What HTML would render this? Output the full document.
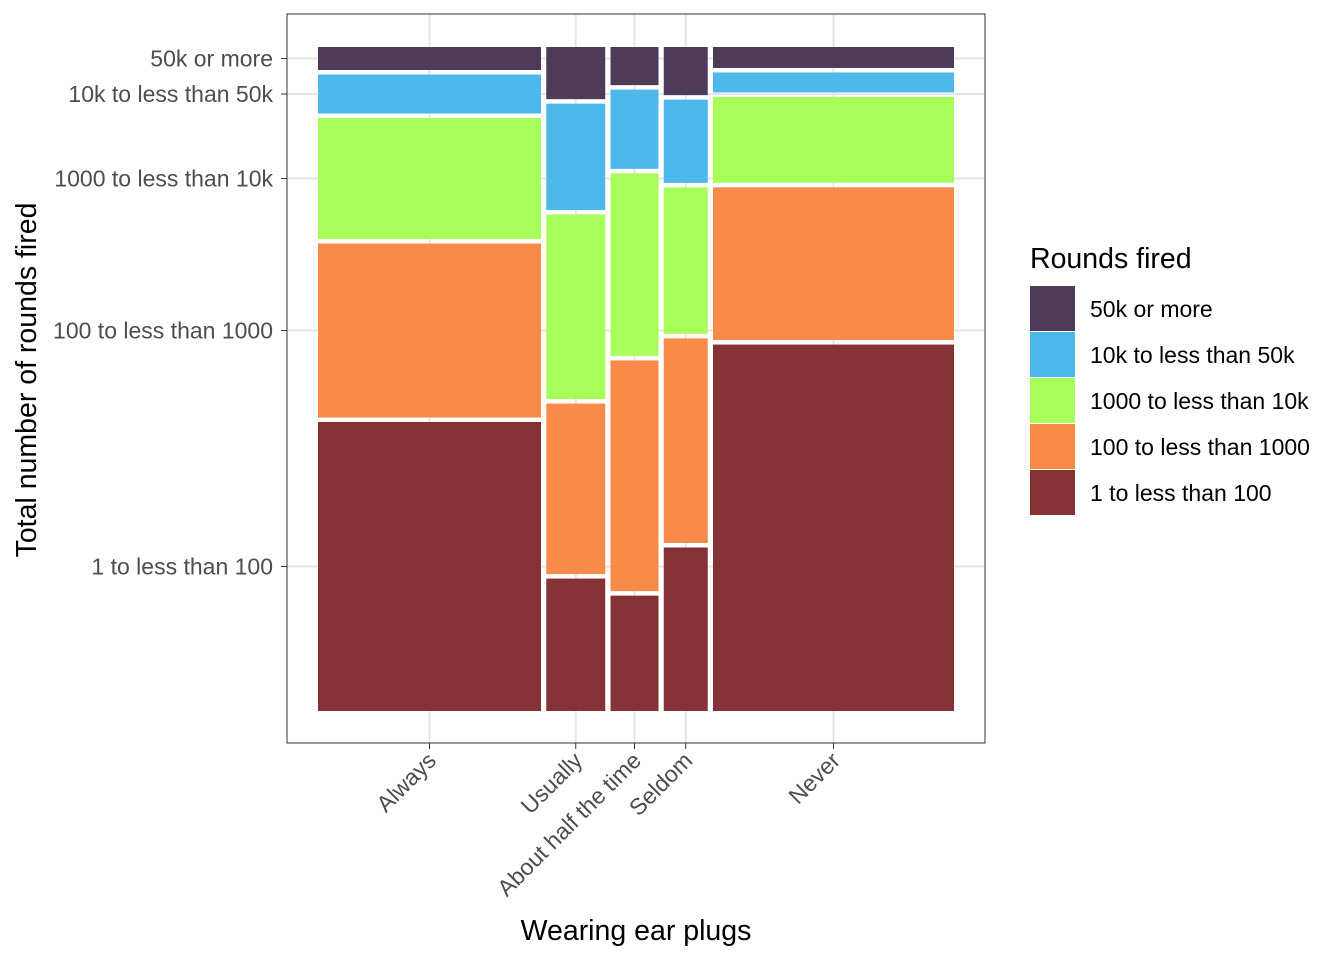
<!DOCTYPE html>
<html><head><meta charset="utf-8"><style>
body{margin:0;background:#fff}
svg{display:block;font-family:"Liberation Sans",Arial,sans-serif}
</style></head><body>
<svg id="chart" width="1344" height="960">
<rect x="287" y="14" width="698" height="729" fill="#fff"/>
<g id="grid"></g><g id="bars"></g>
<rect x="287" y="14" width="698" height="729" fill="none" stroke="#333" stroke-width="1"/>
<g id="axes"></g>
<text x="636" y="940" font-size="28.5" text-anchor="middle" fill="#000">Wearing ear plugs</text>
<text transform="translate(36,380) rotate(-90)" font-size="28.5" text-anchor="middle" fill="#000">Total number of rounds fired</text>
<text x="1030" y="268" font-size="28.5" fill="#000">Rounds fired</text>
<g id="legend"></g>
</svg>
<script>
const categories = ["Always","Usually","About half the time","Seldom","Never"];
const colWeights = [223,59,48,44,241];
const levels = ["1 to less than 100","100 to less than 1000","1000 to less than 10k","10k to less than 50k","50k or more"];
const s_1_100 = [289,132,115,163,367];
const s_100_1000 = [174,170,230,204,153];
const s_1000_10k = [121,184,182,146,86];
const s_10k_50k = [39,106,79,83,20];
const s_50k = [23,52,38,48,21];
const series = [s_1_100,s_100_1000,s_1000_10k,s_10k_50k,s_50k];
const colors = ["#853236","#f98b4a","#a9ff5a","#4db9ea","#4e3b59"];
const NS="http://www.w3.org/2000/svg";
function mk(tag,attrs,parent){const e=document.createElementNS(NS,tag);for(const k in attrs)e.setAttribute(k,attrs[k]);parent.appendChild(e);return e;}
const X0=318,X1=954,Y0=47,Y1=711,GX=5.25,GY=4.5;
const totW=colWeights.reduce((a,b)=>a+b,0);
const availW=(X1-X0)-GX*(categories.length-1);
function xScale(i){let x=X0;for(let j=0;j<i;j++)x+=colWeights[j]/totW*availW+GX;return x;}
function wScale(i){return colWeights[i]/totW*availW;}
const bars=document.getElementById('bars'),grid=document.getElementById('grid'),axes=document.getElementById('axes'),legend=document.getElementById('legend');
const yTicks=[];
categories.forEach((c,i)=>{
  const tot=series.reduce((a,s)=>a+s[i],0);
  const availH=(Y1-Y0)-GY*(levels.length-1);
  let y=Y1;
  levels.forEach((l,k)=>{
    const h=series[k][i]/tot*availH;
    const r=mk('rect',{x:xScale(i),y:y-h,width:wScale(i),height:h,fill:colors[k]},bars);
    
    
    if(i===0)yTicks.push(y-h/2);
    y-=h+GY;
  });
});
yTicks.forEach((ty,k)=>{
  const g=mk('line',{x1:287,x2:985,y1:ty,y2:ty,stroke:'#e5e5e5','stroke-width':2},grid);
  
  
  mk('line',{x1:281,x2:287,y1:ty,y2:ty,stroke:'#333','stroke-width':1},axes);
  const t=mk('text',{x:273,y:ty+8,'font-size':23,'text-anchor':'end',fill:'#4d4d4d'},axes);
  t.textContent=levels[k];
  
  
});
categories.forEach((c,i)=>{
  const cx=xScale(i)+wScale(i)/2;
  const g=mk('line',{x1:cx,x2:cx,y1:14,y2:743,stroke:'#e5e5e5','stroke-width':2},grid);
  
  
  mk('line',{x1:cx,x2:cx,y1:743,y2:749,stroke:'#333','stroke-width':1},axes);
  const t=mk('text',{transform:`translate(${cx+8},${762}) rotate(-45)`,'font-size':23,'text-anchor':'end',fill:'#4d4d4d'},axes);
  t.textContent=c;
  
  
});
for(let k=levels.length-1;k>=0;k--){
  const row=levels.length-1-k, y=286+row*46;
  const r=mk('rect',{x:1030,y:y,width:45,height:45,fill:colors[k]},legend);
  
  
  const t=mk('text',{x:1090,y:y+31,'font-size':23,fill:'#000'},legend);
  t.textContent=levels[k];
  
  
}
</script>
</body></html>
